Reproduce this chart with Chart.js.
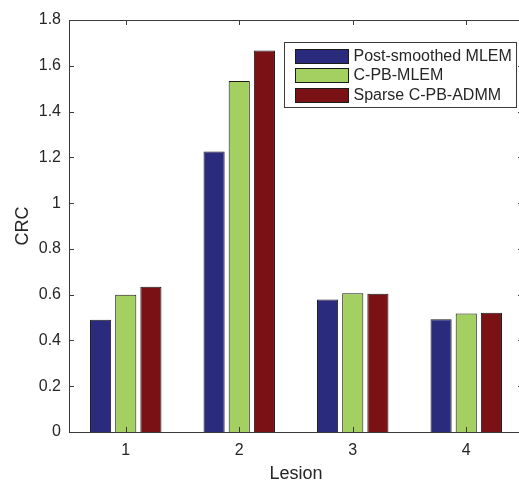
<!DOCTYPE html>
<html>
<head>
<meta charset="utf-8">
<script src="https://cdn.jsdelivr.net/npm/chart.js@4.4.1/dist/chart.umd.min.js"></script>
<style>
  html, body { margin: 0; padding: 0; background: #fff; overflow: hidden; }
  #crcChart { display: block; }
</style>
</head>
<body>
<canvas id="crcChart" width="519" height="481"></canvas>
<script>
const lesions = ["1", "2", "3", "4"];
const postSmoothedMlem = [0.49, 1.225, 0.579, 0.493];
const cPbMlem = [0.6, 1.533, 0.606, 0.518];
const sparseCPbAdmm = [0.635, 1.667, 0.604, 0.521];
const yTickLabels = ["0", "0.2", "0.4", "0.6", "0.8", "1", "1.2", "1.4", "1.6", "1.8"];

const textColor = "#262626";
const axisColor = "#3a3a3a";

Chart.defaults.font.family = "'Liberation Sans', Arial, Helvetica, sans-serif";
Chart.defaults.color = textColor;

// In the figure the plot box runs a few pixels past the right edge of the image
const widenPlot = {
  id: "widenPlot",
  afterLayout(chart) {
    const extra = 4;
    const x = chart.scales.x;
    chart.chartArea.right += extra;
    chart.chartArea.width += extra;
    x.right += extra;
    x.width += extra;
    x.configure();
  }
};

// Box round the plot, inward ticks on all four sides, and the legend box
const matlabAxes = {
  id: "matlabAxes",
  afterDraw(chart) {
    const { ctx, chartArea: a, scales } = chart;
    const tick = 5;
    ctx.save();
    ctx.strokeStyle = axisColor;
    ctx.lineWidth = 1;
    ctx.strokeRect(a.left + 0.5, a.top + 0.5, a.right - a.left, a.bottom - a.top);

    ctx.beginPath();
    scales.y.ticks.forEach((t, i) => {
      const y = Math.round(scales.y.getPixelForTick(i)) + 0.5;
      ctx.moveTo(a.left, y);
      ctx.lineTo(a.left + tick, y);
      ctx.moveTo(a.right, y);
      ctx.lineTo(a.right - tick, y);
    });
    scales.x.ticks.forEach((t, i) => {
      const x = Math.round(scales.x.getPixelForTick(i)) + 0.5;
      ctx.moveTo(x, a.bottom);
      ctx.lineTo(x, a.bottom - tick);
      ctx.moveTo(x, a.top);
      ctx.lineTo(x, a.top + tick);
    });
    ctx.stroke();

    // legend
    const lx = 284, ly = 42, lw = 232, lh = 65;
    ctx.fillStyle = "#fff";
    ctx.fillRect(lx, ly, lw, lh);
    ctx.strokeRect(lx + 0.5, ly + 0.5, lw, lh);
    ctx.font = "16px 'Liberation Sans', Arial, sans-serif";
    ctx.textBaseline = "middle";
    ctx.textAlign = "left";
    chart.data.datasets.forEach((ds, i) => {
      const ry = Math.round(ly + 7 + i * 19.3);
      ctx.fillStyle = ds.backgroundColor;
      ctx.fillRect(295, ry, 53, 14);
      ctx.strokeStyle = "#1a1a1a";
      ctx.strokeRect(295.5, ry + 0.5, 53, 14);
      ctx.fillStyle = textColor;
      ctx.fillText(ds.label, 353.5, ry + 7.5);
    });
    ctx.restore();
  }
};

new Chart(document.getElementById("crcChart"), {
  type: "bar",
  data: {
    labels: lesions,
    datasets: [
      { label: "Post-smoothed MLEM", data: postSmoothedMlem, backgroundColor: "#2b2b7e" },
      { label: "C-PB-MLEM", data: cPbMlem, backgroundColor: "#a3d060" },
      { label: "Sparse C-PB-ADMM", data: sparseCPbAdmm, backgroundColor: "#7a1215" }
    ]
  },
  options: {
    responsive: false,
    animation: false,
    layout: { padding: { top: 20, right: 0, left: 0, bottom: 0 } },
    datasets: {
      bar: {
        categoryPercentage: 0.665,
        barPercentage: 0.84,
        borderColor: "#1a1a1a",
        borderWidth: 1
      }
    },
    plugins: {
      legend: { display: false },
      tooltip: { enabled: false }
    },
    scales: {
      x: {
        grid: { display: false, drawTicks: false },
        border: { display: false },
        ticks: { font: { size: 16 }, padding: 9, color: textColor },
        title: {
          display: true,
          text: "Lesion",
          font: { size: 18, lineHeight: 0.8 },
          padding: { top: 0, bottom: 0 },
          color: textColor
        },
        afterFit(scale) { scale.height = 49; }
      },
      y: {
        min: 0,
        max: 1.8,
        grid: { display: false, drawTicks: false },
        border: { display: false },
        ticks: {
          stepSize: 0.2,
          font: { size: 16 },
          padding: 8,
          color: textColor,
          callback: (v, i) => yTickLabels[i]
        },
        title: {
          display: true,
          text: "CRC",
          font: { size: 18, lineHeight: 1 },
          padding: { top: 14, bottom: 0 },
          color: textColor
        },
        afterFit(scale) { scale.width = 69; }
      }
    }
  },
  plugins: [widenPlot, matlabAxes]
});
</script>
</body>
</html>
